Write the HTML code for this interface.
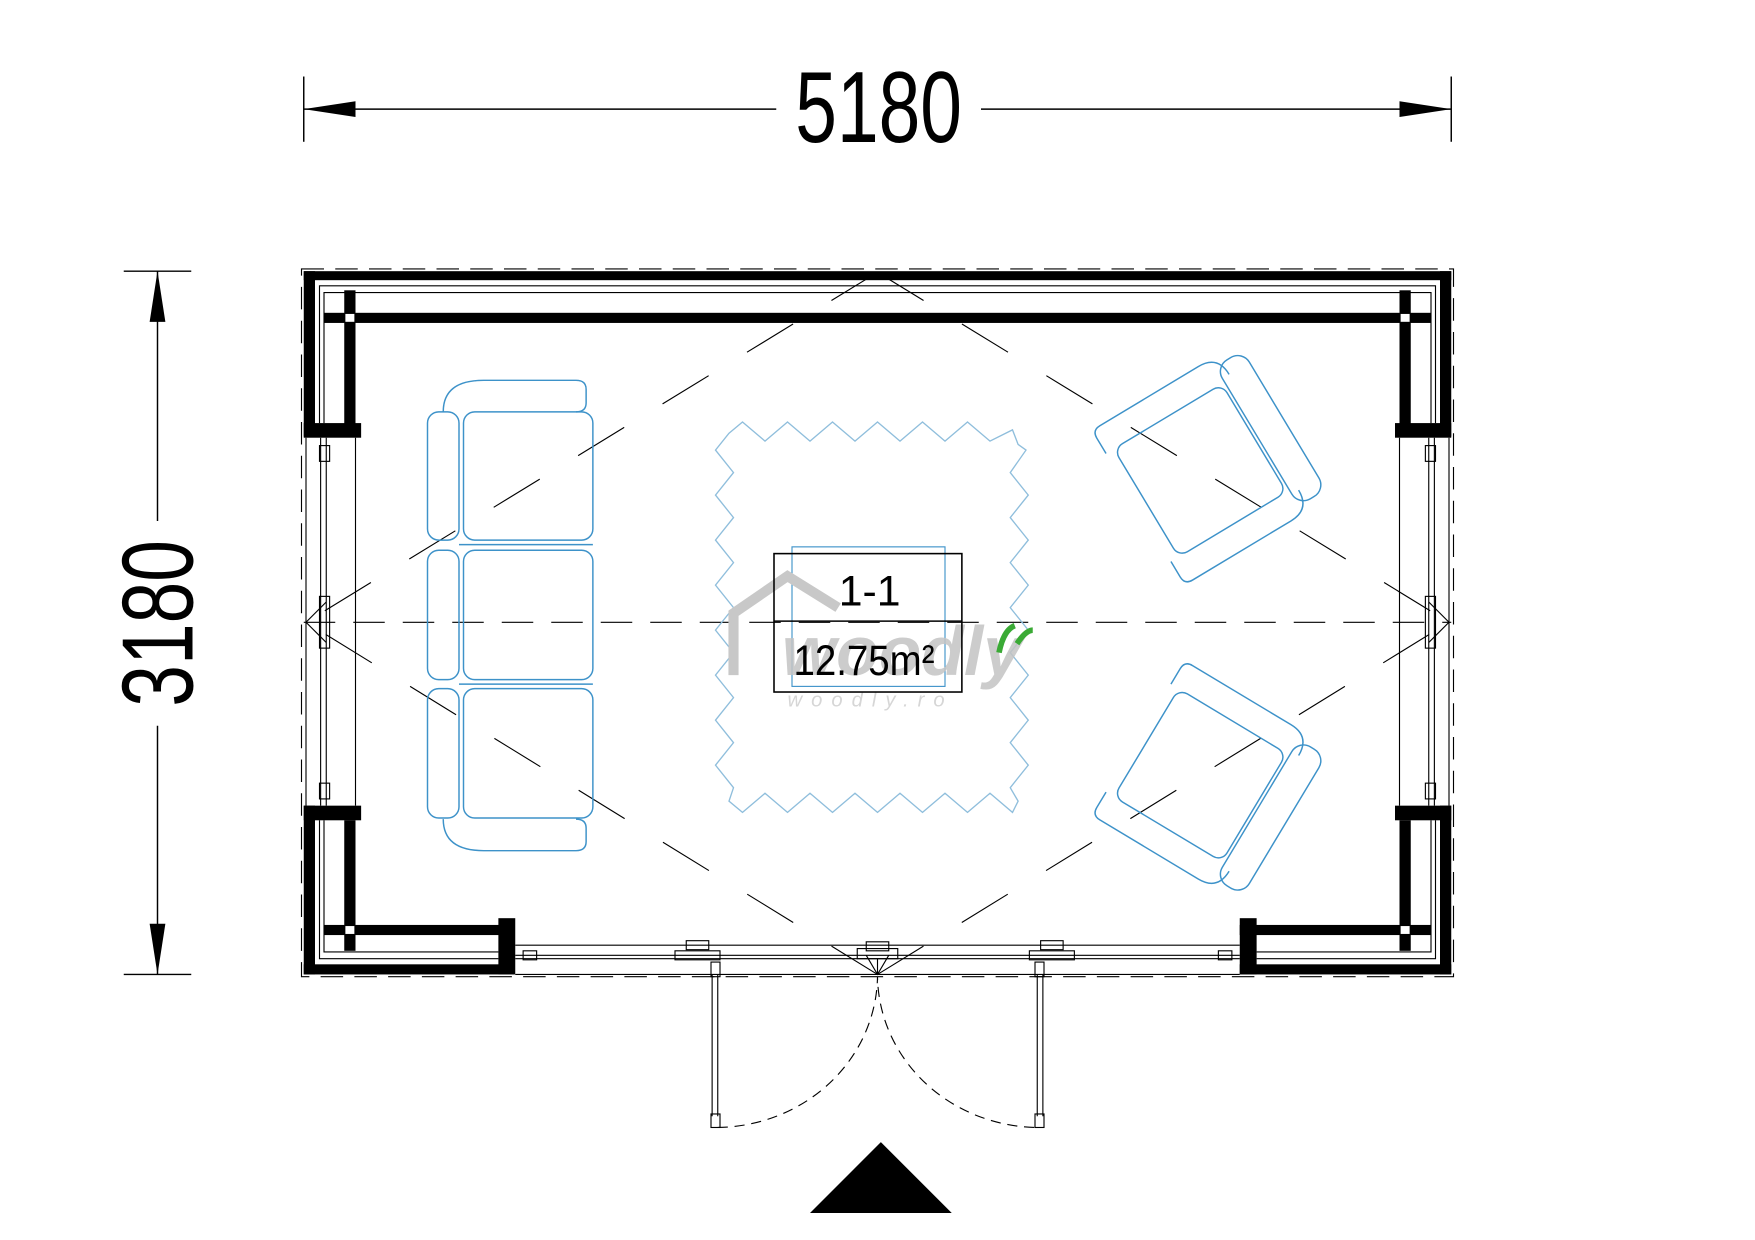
<!DOCTYPE html>
<html><head><meta charset="utf-8"><style>
html,body{margin:0;padding:0;background:#fff;}
svg{display:block;}
</style></head><body>
<svg width="1755" height="1240" viewBox="0 0 1560 1102" preserveAspectRatio="none" xmlns="http://www.w3.org/2000/svg">
<rect width="1560" height="1102" fill="#fff"/>
<!-- top dimension -->
<g stroke="#000" stroke-width="1.3">
<line x1="270" y1="68" x2="270" y2="126"/><line x1="1290" y1="68" x2="1290" y2="126"/>
<line x1="270" y1="97" x2="690" y2="97"/><line x1="872" y1="97" x2="1290" y2="97"/>
<line x1="110" y1="241" x2="170" y2="241"/><line x1="110" y1="866" x2="170" y2="866"/>
<line x1="140" y1="241" x2="140" y2="463"/><line x1="140" y1="645" x2="140" y2="866"/>
</g>
<polygon points="270,97 316,90 316,104" fill="#000"/>
<polygon points="1290,97 1244,90 1244,104" fill="#000"/>
<polygon points="140,241 133,286 147,286" fill="#000"/>
<polygon points="140,866 133,821 147,821" fill="#000"/>
<text transform="translate(781,126) scale(0.74,1)" text-anchor="middle" font-family="Liberation Sans, sans-serif" font-size="90">5180</text>
<text transform="translate(171,554) rotate(-90) scale(0.74,1)" text-anchor="middle" font-family="Liberation Sans, sans-serif" font-size="90">3180</text>

<!-- dashed diagonals -->
<g stroke="#000" stroke-width="1" stroke-dasharray="48,40" fill="none">
<line x1="780" y1="242" x2="272" y2="553"/>
<line x1="780" y1="242" x2="1288" y2="553"/>
<line x1="780" y1="866" x2="272" y2="553"/>
<line x1="780" y1="866" x2="1288" y2="553"/>
<line x1="270" y1="553" x2="1290" y2="553" stroke-dasharray="28,16"/>
</g>

<!-- walls -->
<g fill="#000">
<rect x="270" y="241" width="1020" height="8"/>
<rect x="288" y="278" width="984" height="9"/>
<rect x="270" y="241" width="10" height="147"/>
<rect x="1280" y="241" width="10" height="147"/>
<rect x="306" y="258" width="10" height="127"/>
<rect x="1244" y="258" width="10" height="127"/>
<rect x="270" y="376" width="51" height="13"/>
<rect x="1240" y="376" width="50" height="13"/>
<rect x="270" y="716" width="51" height="13"/>
<rect x="1240" y="716" width="50" height="13"/>
<rect x="270" y="716" width="10" height="150"/>
<rect x="1280" y="716" width="10" height="150"/>
<rect x="306" y="729" width="10" height="116"/>
<rect x="1244" y="729" width="10" height="116"/>
<rect x="288" y="822" width="169" height="9"/>
<rect x="1102" y="822" width="170" height="9"/>
<rect x="270" y="857" width="187" height="9"/>
<rect x="1102" y="857" width="188" height="9"/>
<rect x="443" y="816" width="15" height="50"/>
<rect x="1102" y="816" width="15" height="50"/>
</g>
<g fill="#fff"><rect x="307" y="279" width="8" height="7"/><rect x="1245" y="279" width="8" height="7"/><rect x="307" y="823" width="8" height="7"/><rect x="1245" y="823" width="8" height="7"/></g>
<g stroke="#000" stroke-width="1" fill="none">
<rect x="268" y="239" width="1024" height="629" stroke-dasharray="20,10"/>
<path d="M284 376 V254 H1276 V376 M288 376 V260 H1272 V376"/>
<path d="M284 729 V852 H443 M288 729 V846 H443 M1276 729 V852 H1117 M1272 729 V846 H1117"/>
<!-- side windows -->
<path d="M272 389 V716 M285 389 V716 M290 389 V716 M316 389 V716"/>
<path d="M1288 389 V716 M1275 389 V716 M1270 389 V716 M1244 389 V716"/>
<rect x="284" y="396" width="9" height="14"/><rect x="284" y="696" width="9" height="14"/><rect x="284" y="530" width="9" height="46"/>
<rect x="1267" y="396" width="9" height="14"/><rect x="1267" y="696" width="9" height="14"/><rect x="1267" y="530" width="9" height="46"/>
<path d="M272 553 L290 535 M272 553 L290 571 M1288 553 L1270 535 M1288 553 L1270 571"/>
<!-- front door frame -->
<path d="M458 840 H1102 M458 866 H1102 M458 849 H1102 M458 852 H1102"/>
<rect x="600" y="845" width="40" height="8"/><rect x="610" y="836" width="20" height="8"/>
<rect x="762" y="843" width="36" height="9"/><rect x="770" y="837" width="20" height="8"/>
<rect x="915" y="845" width="40" height="8"/><rect x="925" y="836" width="20" height="8"/>
<rect x="465" y="845" width="12" height="8"/><rect x="1083" y="845" width="12" height="8"/>
<path d="M770 849 L780 866 L790 849 M780 866 V852"/>
<!-- door leaves -->
<path d="M633 866 V992 M638 866 V992 M922 866 V992 M927 866 V992"/>
<rect x="632" y="855" width="8" height="13"/><rect x="920" y="855" width="8" height="13"/>
<rect x="632" y="990" width="8" height="12"/><rect x="920" y="990" width="8" height="12"/>
<path d="M638 1002 A144 136 0 0 0 780 868 A144 136 0 0 0 922 1002" stroke-dasharray="9,6"/>
</g>
<polygon points="720,1078 846,1078 783,1015" fill="#000"/>

<!-- rug -->
<path fill="none" stroke="#8fbedc" stroke-width="1.2" d="M648 385 L660 375 L680 392 L700 375 L720 392 L740 375 L760 392 L780 375 L800 392 L820 375 L840 392 L860 375 L880 392 L900 382 L905 395 L912 400 L898 420 L914 440 L898 460 L914 480 L898 500 L914 520 L898 540 L914 560 L898 580 L914 600 L898 620 L914 640 L898 660 L914 680 L898 700 L905 712 L900 722 L880 705 L860 722 L840 705 L820 722 L800 705 L780 722 L760 705 L740 722 L720 705 L700 722 L680 705 L660 722 L648 712 L652 700 L636 680 L652 660 L636 640 L652 620 L636 600 L652 580 L636 560 L652 540 L636 520 L652 500 L636 480 L652 460 L636 440 L652 420 L636 400 Z"/>

<!-- sofa -->
<g fill="none" stroke="#3d92c9" stroke-width="1.3">
<path d="M394 366 Q394 338 430 338 H512 Q521 338 521 346 V358 Q521 366 512 366"/>
<path d="M394 728 Q394 756 430 756 H512 Q521 756 521 748 V736 Q521 728 512 728"/>
<rect x="380" y="366" width="28" height="114" rx="10"/>
<rect x="380" y="489" width="28" height="115" rx="10"/>
<rect x="380" y="612" width="28" height="115" rx="10"/>
<rect x="412" y="366" width="115" height="114" rx="10"/>
<rect x="412" y="489" width="115" height="115" rx="10"/>
<rect x="412" y="612" width="115" height="115" rx="10"/>
<path d="M408 484 H527 M408 608 H527"/>
</g>
<!-- armchairs -->
<g fill="none" stroke="#3d92c9" stroke-width="1.3">
<g transform="translate(1072,415) rotate(-31)">
<rect x="-62" y="-56" width="112" height="112" rx="9"/>
<rect x="53" y="-72" width="28" height="144" rx="12"/>
<path d="M-70 -56 V-72 Q-70 -80 -62 -80 H40 Q60 -80 60 -60"/>
<path d="M-70 56 V72 Q-70 80 -62 80 H40 Q60 80 60 60"/>
</g>
<g transform="translate(1072,692) rotate(31)">
<rect x="-62" y="-56" width="112" height="112" rx="9"/>
<rect x="53" y="-72" width="28" height="144" rx="12"/>
<path d="M-70 -56 V-72 Q-70 -80 -62 -80 H40 Q60 -80 60 -60"/>
<path d="M-70 56 V72 Q-70 80 -62 80 H40 Q60 80 60 60"/>
</g>
</g>
<!-- table -->
<rect x="704" y="486" width="136" height="124" fill="none" stroke="#3d92c9" stroke-width="1"/>
<!-- watermark -->
<path d="M652 600 V545 L700 512 L745 540" fill="none" stroke="#c8c8c8" stroke-width="9"/>
<text x="695" y="600" font-family="Liberation Sans, sans-serif" font-size="62" font-weight="bold" font-style="italic" fill="#c4c4c4" opacity="0.85">woodly</text>
<text x="700" y="628" font-family="Liberation Sans, sans-serif" font-size="18" fill="#d6d6d6" letter-spacing="8" font-style="italic">woodly.ro</text>
<path d="M888 580 Q892 560 902 556 M904 572 Q912 560 918 560" stroke="#3aaa35" stroke-width="5" fill="none"/>
<rect x="688" y="492" width="167" height="123" fill="none" stroke="#000" stroke-width="1.4"/>
<line x1="688" y1="552" x2="855" y2="552" stroke="#000" stroke-width="1.3"/>
<text x="773" y="538" text-anchor="middle" font-family="Liberation Sans, sans-serif" font-size="38">1-1</text>
<text x="768" y="600" text-anchor="middle" font-family="Liberation Sans, sans-serif" font-size="38" transform="translate(768,0) scale(0.9,1) translate(-768,0)">12.75m²</text>
</svg>
</body></html>
